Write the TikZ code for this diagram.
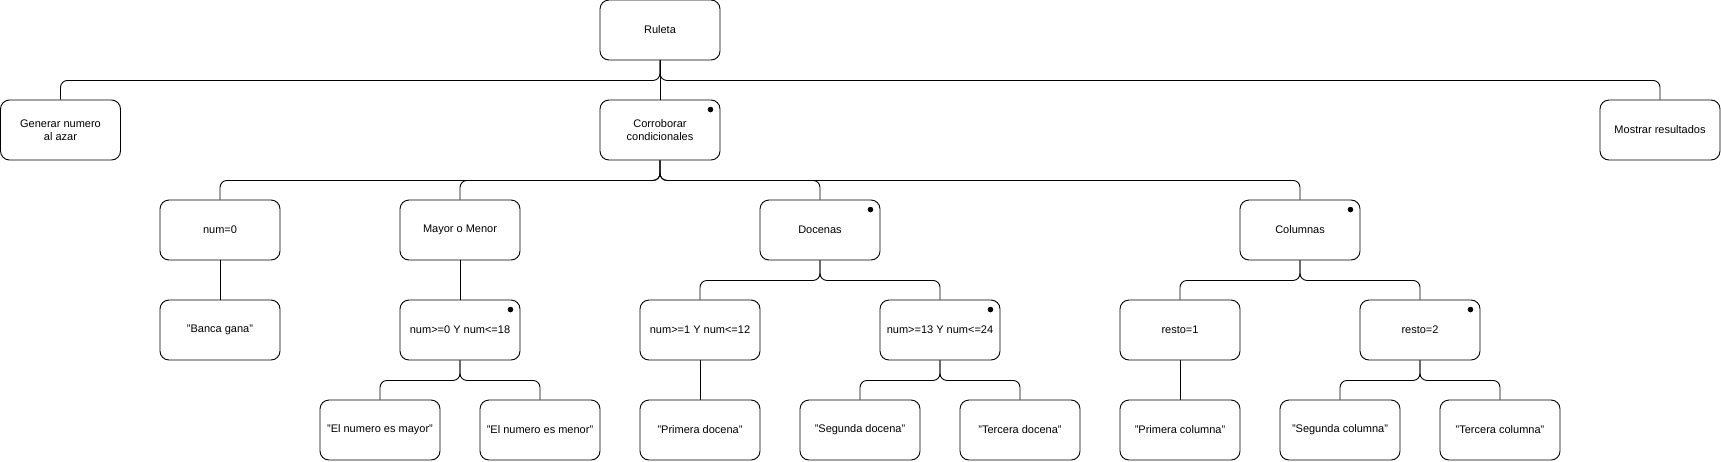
\documentclass[tikz,border=0pt]{standalone}
\usepackage{fontspec}
\setmainfont{Liberation Sans}
\begin{document}
\begin{tikzpicture}[x=1pt,y=-1pt,
  box/.style={draw,line width=0.9pt,rounded corners=9pt,minimum width=120pt,minimum height=60pt,inner sep=0pt,align=center,font=\fontsize{11}{13}\selectfont},
  link/.style={line width=0.9pt,rounded corners=7pt},
  dot/.style={fill=black}]
\useasboundingbox (0,0) rectangle (1721,461);
\node[box] (ruleta) at (660,30) {Ruleta};
\node[box] (gen) at (60.5,130) {Generar numero\\al azar};
\node[box] (corr) at (660,130) {Corroborar\\condicionales};
\node[box] (most) at (1660,130) {Mostrar resultados};
\node[box] (num0) at (220,230) {num=0};
\node[box] (mayor) at (460,230) {Mayor o Menor};
\node[box] (doc) at (820,230) {Docenas};
\node[box] (col) at (1300,230) {Columnas};
\node[box] (banca) at (220,330) {"Banca gana"};
\node[box] (m18) at (460,330) {num>=0 Y num<=18};
\node[box] (d12) at (700,330) {num>=1 Y num<=12};
\node[box] (d24) at (940,330) {num>=13 Y num<=24};
\node[box] (r1) at (1180,330) {resto=1};
\node[box] (r2) at (1420,330) {resto=2};
\node[box] (may) at (380,430) {"El numero es mayor"};
\node[box] (men) at (540,430) {"El numero es menor"};
\node[box] (pd) at (700,430) {"Primera docena"};
\node[box] (sd) at (860,430) {"Segunda docena"};
\node[box] (td) at (1020,430) {"Tercera docena"};
\node[box] (pc) at (1180,430) {"Primera columna"};
\node[box] (sc) at (1340,430) {"Segunda columna"};
\node[box] (tc) at (1500,430) {"Tercera columna"};
% dots
\foreach \n in {corr,doc,col,m18,d24,r2}
  \fill[dot] ([xshift=-10pt,yshift=-10pt]\n.north east) circle (2.8pt);
% connectors
\draw[link] (ruleta.south) -- ++(0,20) -| (gen.north);
\draw[link] (ruleta.south) -- (corr.north);
\draw[link] (ruleta.south) -- ++(0,20) -| (most.north);
\foreach \c in {num0,mayor,doc,col}
  \draw[link] (corr.south) -- ++(0,20) -| (\c.north);
\draw[link] (num0.south) -- (banca.north);
\draw[link] (mayor.south) -- (m18.north);
\draw[link] (doc.south) -- ++(0,20) -| (d12.north);
\draw[link] (doc.south) -- ++(0,20) -| (d24.north);
\draw[link] (col.south) -- ++(0,20) -| (r1.north);
\draw[link] (col.south) -- ++(0,20) -| (r2.north);
\draw[link] (m18.south) -- ++(0,20) -| (may.north);
\draw[link] (m18.south) -- ++(0,20) -| (men.north);
\draw[link] (d12.south) -- (pd.north);
\draw[link] (d24.south) -- ++(0,20) -| (sd.north);
\draw[link] (d24.south) -- ++(0,20) -| (td.north);
\draw[link] (r1.south) -- (pc.north);
\draw[link] (r2.south) -- ++(0,20) -| (sc.north);
\draw[link] (r2.south) -- ++(0,20) -| (tc.north);
\end{tikzpicture}
\end{document}
